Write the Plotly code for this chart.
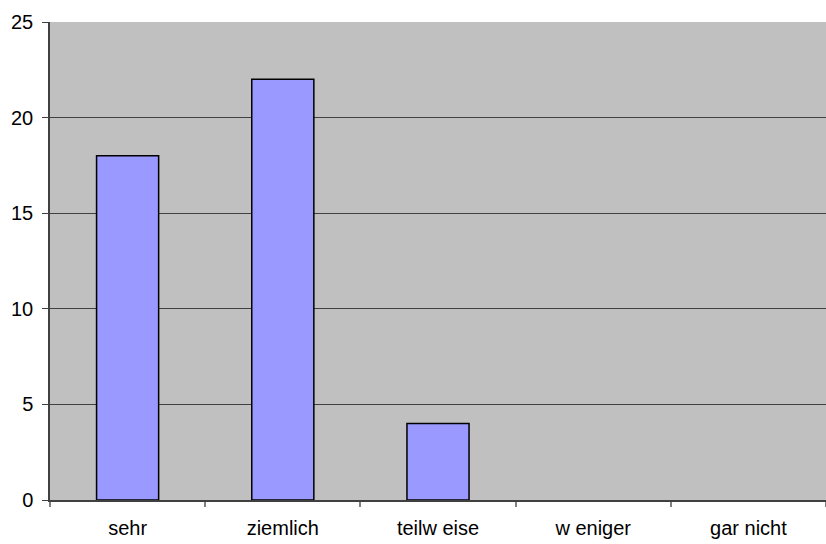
import plotly.graph_objects as go

# Responses per rating category
categories = ["sehr", "ziemlich", "teilw eise", "w eniger", "gar nicht"]
counts = [18, 22, 4, 0, 0]
y_ticks = [0, 5, 10, 15, 20, 25]

# empty categories get no outline, so no flat line is drawn on the axis
outline_widths = [1.5 if c > 0 else 0 for c in counts]

fig = go.Figure(
    go.Bar(
        x=categories,
        y=counts,
        width=0.4,
        marker=dict(color="#9999FF", line=dict(color="#000000", width=outline_widths)),
        hoverinfo="x+y",
    )
)

fig.update_layout(
    width=826,
    height=544,
    margin=dict(l=50, r=0, t=22, b=44),
    paper_bgcolor="#FFFFFF",
    plot_bgcolor="#C0C0C0",
    showlegend=False,
    font=dict(family="Liberation Sans, Arial, sans-serif", size=20, color="#000000"),
)

fig.update_xaxes(
    type="category",
    range=[-0.5, 4.5],
    showline=True,
    linecolor="#404040",
    linewidth=1.5,
    ticks="outside",
    tickson="boundaries",
    ticklen=5,
    tickcolor="#808080",
    tickwidth=1.5,
    showgrid=False,
    tickfont=dict(size=20),
    ticklabelstandoff=9,
)

fig.update_yaxes(
    range=[0, 25],
    tickvals=y_ticks,
    showline=True,
    linecolor="#404040",
    linewidth=1.5,
    ticks="outside",
    ticklen=6,
    tickcolor="#404040",
    tickwidth=1,
    showgrid=True,
    gridcolor="#404040",
    gridwidth=1,
    zeroline=False,
    tickfont=dict(size=20),
    ticklabelstandoff=5,
)

fig.write_html("out.html")
